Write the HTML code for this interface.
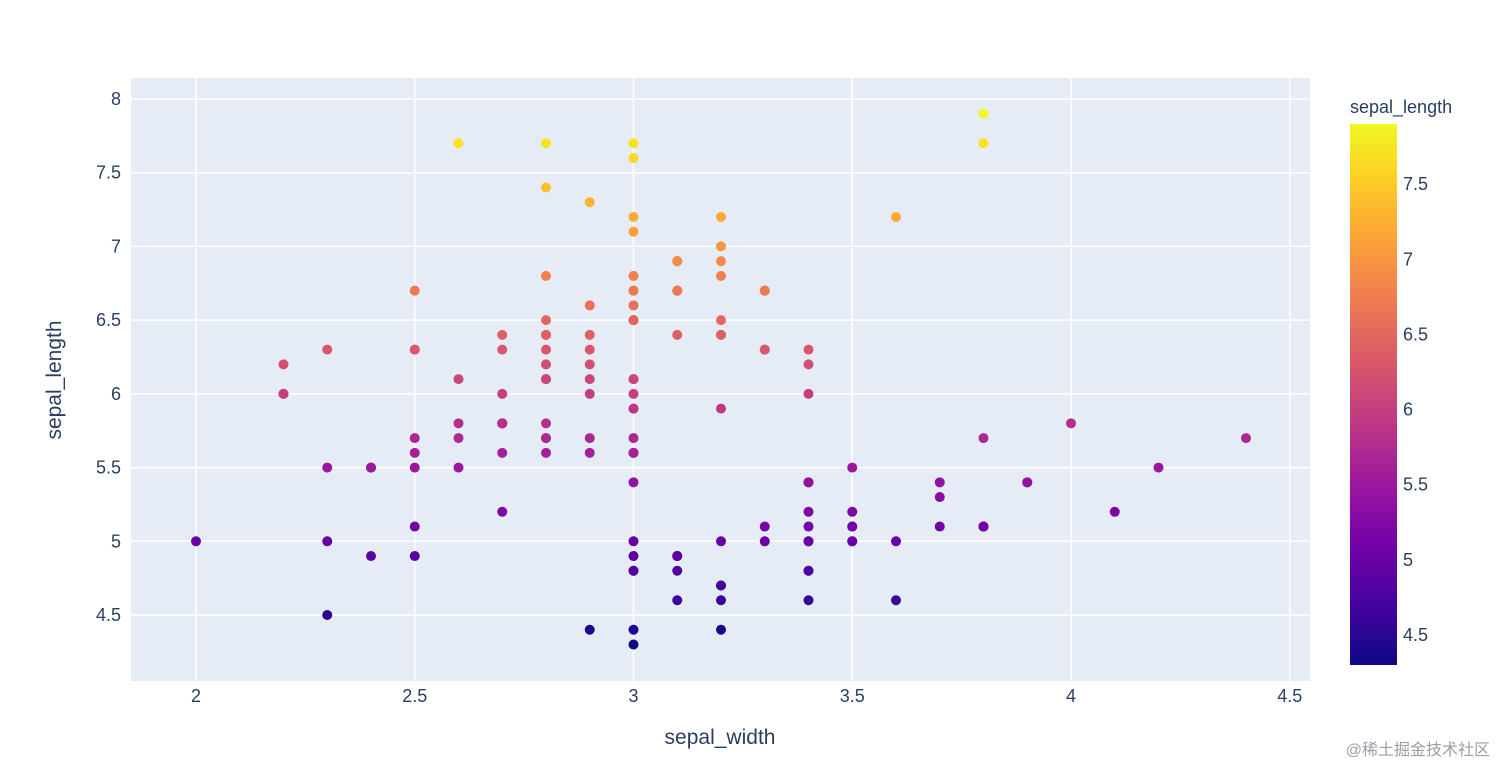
<!DOCTYPE html>
<html><head><meta charset="utf-8">
<style>
html,body{margin:0;padding:0;background:#fff;width:1512px;height:783px;overflow:hidden}
svg text{font-family:"Liberation Sans","Noto Sans CJK SC",sans-serif;fill:#2a3f5f}
</style></head>
<body>
<svg id="chart" width="1512" height="783" xmlns="http://www.w3.org/2000/svg">
<rect x="131" y="78" width="1179" height="603" fill="#e5ecf6"/>
<g id="grid"></g>
<g id="points"></g>
<g id="xticks"></g>
<g id="yticks"></g>
<text x="720" y="744" font-size="21" text-anchor="middle">sepal_width</text>
<text transform="translate(61,380) rotate(-90)" font-size="21" text-anchor="middle">sepal_length</text>
<defs><linearGradient id="plasma" x1="0" y1="1" x2="0" y2="0"></linearGradient></defs>
<text x="1350" y="113" font-size="18">sepal_length</text>
<rect x="1350" y="124" width="47" height="541" fill="url(#plasma)"/>
<g id="cticks"></g>
<text x="1490" y="755" font-size="16" text-anchor="end" style="fill:#9aa0a8">@稀土掘金技术社区</text>
</svg>
<script>
const sepalLength=[5.1,4.9,4.7,4.6,5.0,5.4,4.6,5.0,4.4,4.9,5.4,4.8,4.8,4.3,5.8,5.7,5.4,5.1,5.7,5.1,5.4,5.1,4.6,5.1,4.8,5.0,5.0,5.2,5.2,4.7,4.8,5.4,5.2,5.5,4.9,5.0,5.5,4.9,4.4,5.1,5.0,4.5,4.4,5.0,5.1,4.8,5.1,4.6,5.3,5.0,
7.0,6.4,6.9,5.5,6.5,5.7,6.3,4.9,6.6,5.2,5.0,5.9,6.0,6.1,5.6,6.7,5.6,5.8,6.2,5.6,5.9,6.1,6.3,6.1,6.4,6.6,6.8,6.7,6.0,5.7,5.5,5.5,5.8,6.0,5.4,6.0,6.7,6.3,5.6,5.5,5.5,6.1,5.8,5.0,5.6,5.7,5.7,6.2,5.1,5.7,
6.3,5.8,7.1,6.3,6.5,7.6,4.9,7.3,6.7,7.2,6.5,6.4,6.8,5.7,5.8,6.4,6.5,7.7,7.7,6.0,6.9,5.6,7.7,6.3,6.7,7.2,6.2,6.1,6.4,7.2,7.4,7.9,6.4,6.3,6.1,7.7,6.3,6.4,6.0,6.9,6.7,6.9,5.8,6.8,6.7,6.7,6.3,6.5,6.2,5.9];
const sepalWidth=[3.5,3.0,3.2,3.1,3.6,3.9,3.4,3.4,2.9,3.1,3.7,3.4,3.0,3.0,4.0,4.4,3.9,3.5,3.8,3.8,3.4,3.7,3.6,3.3,3.4,3.0,3.4,3.5,3.4,3.2,3.1,3.4,4.1,4.2,3.1,3.2,3.5,3.1,3.0,3.4,3.5,2.3,3.2,3.5,3.8,3.0,3.8,3.2,3.7,3.3,
3.2,3.2,3.1,2.3,2.8,2.8,3.3,2.4,2.9,2.7,2.0,3.0,2.2,2.9,2.9,3.1,3.0,2.7,2.2,2.5,3.2,2.8,2.5,2.8,2.9,3.0,2.8,3.0,2.9,2.6,2.4,2.4,2.7,2.7,3.0,3.4,3.1,2.3,3.0,2.5,2.6,3.0,2.6,2.3,2.7,3.0,2.9,2.9,2.5,2.8,
3.3,2.7,3.0,2.9,3.0,3.0,2.5,2.9,2.5,3.6,3.2,2.7,3.0,2.5,2.8,3.2,3.0,3.8,2.6,2.2,3.2,2.8,2.8,2.7,3.3,3.2,2.8,3.0,2.8,3.0,2.8,3.8,2.8,2.8,2.6,3.0,3.4,3.1,3.0,3.1,3.1,3.1,2.7,3.2,3.3,3.0,2.5,3.0,3.4,3.0];
const xTickLabels=["2","2.5","3","3.5","4","4.5"];
const yTickLabels=["4.5","5","5.5","6","6.5","7","7.5","8"];
const cTickLabels=["4.5","5","5.5","6","6.5","7","7.5"];
const plasma=["#0d0887","#46039f","#7201a8","#9c179e","#bd3786","#d8576b","#ed7953","#fb9f3a","#fdca26","#f0f921"];

const NS="http://www.w3.org/2000/svg";
const xS=v=>196+(v-2)*437.5;
const yS=v=>99+(8-v)*147.43;
const cMin=4.3,cMax=7.9;
const cS=v=>665-(v-cMin)/(cMax-cMin)*541;
function hex(h){return [1,3,5].map(i=>parseInt(h.substr(i,2),16));}
function color(v){let t=(v-cMin)/(cMax-cMin)*(plasma.length-1);let i=Math.min(Math.floor(t),plasma.length-2);let f=t-i;
 const a=hex(plasma[i]),b=hex(plasma[i+1]);return "rgb("+a.map((c,k)=>Math.round(c+(b[k]-c)*f)).join(",")+")";}
function mk(tag,attrs,parent,txt){const e=document.createElementNS(NS,tag);for(const k in attrs)e.setAttribute(k,attrs[k]);if(txt!==undefined)e.textContent=txt;parent.appendChild(e);return e;}

const grid=document.getElementById('grid');
xTickLabels.forEach(l=>{const x=xS(+l);
 const g=mk('line',{x1:x,x2:x,y1:78,y2:681,stroke:'#fff','stroke-width':1.5},grid);
 
 
 const t=mk('text',{x:x,y:702,'font-size':18,'text-anchor':'middle'},document.getElementById('xticks'),l);
 
 
});
yTickLabels.forEach(l=>{const y=yS(+l);
 const g=mk('line',{x1:131,x2:1310,y1:y,y2:y,stroke:'#fff','stroke-width':1.5},grid);
 
 
 const t=mk('text',{x:121,y:y+6,'font-size':18,'text-anchor':'end'},document.getElementById('yticks'),l);
 
 
});
const pts=document.getElementById('points');
sepalLength.forEach((v,i)=>{
 const c=mk('circle',{cx:xS(sepalWidth[i]),cy:yS(v),r:5,fill:color(v)},pts);
 
 
});
const grad=document.getElementById('plasma');
plasma.forEach((c,i)=>mk('stop',{offset:(i/(plasma.length-1)),'stop-color':c},grad));
cTickLabels.forEach(l=>{const y=cS(+l);
 const t=mk('text',{x:1403,y:y+6,'font-size':18},document.getElementById('cticks'),l);
 
 
});
</script>
</body></html>
